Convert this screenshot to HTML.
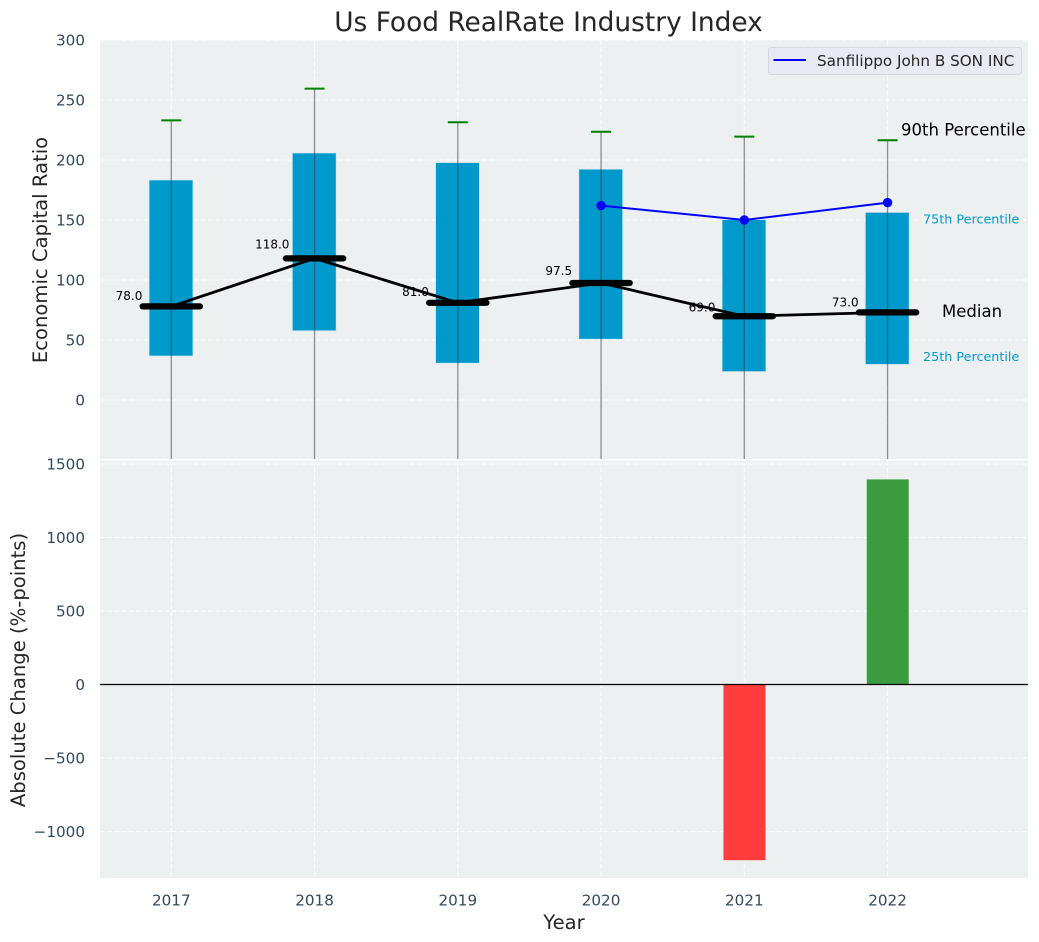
<!DOCTYPE html>
<html>
<head>
<meta charset="utf-8">
<title>Us Food RealRate Industry Index</title>
<style>
html,body{margin:0;padding:0;background:#fff;}
svg{display:block;font-family:"DejaVu Sans","Liberation Sans",sans-serif;}
</style>
</head>
<body>
<svg id="chart" xmlns="http://www.w3.org/2000/svg" width="1039" height="942" viewBox="0 0 1039 942">
<defs>
<clipPath id="clip-top"><rect x="100" y="40" width="928" height="419"></rect></clipPath>
<clipPath id="clip-bottom"><rect x="100" y="460.5" width="928" height="417.5"></rect></clipPath>
</defs>
</svg>
<script>
const years = [2017, 2018, 2019, 2020, 2021, 2022];
const p10Values = [-60, -60, -60, -60, -60, -60];
const q1Values = [37, 58, 31, 51, 24, 30];
const medianValues = [78, 118, 81, 97.5, 69.8, 73];
const medianLabels = ['78.0', '118.0', '81.0', '97.5', '69.0', '73.0'];
const q3Values = [183, 205.5, 197.5, 192, 150, 156];
const p90Values = [233, 259.5, 231.5, 223.5, 219.5, 216.5];
const companyYears = [2020, 2021, 2022];
const companyValues = [162, 150, 164.5];
const changeYears = [2021, 2022];
const changeValues = [-1195, 1395];
const topTicks = [0, 50, 100, 150, 200, 250, 300];
const bottomTicks = [-1000, -500, 0, 500, 1000, 1500];

const svg = document.getElementById('chart');
const NS = 'http://www.w3.org/2000/svg';
const X0 = 171.3, XSTEP = 143.25;
const xScale = yr => X0 + (yr - years[0]) * XSTEP;
const yTop = v => 400 - v * 1.2;
const yBottom = v => 684.5 - v * 0.147;

function make(tag, attrs, parent, text) {
  const el = document.createElementNS(NS, tag);
  for (const k in attrs) el.setAttribute(k, attrs[k]);
  if (text !== undefined) el.textContent = text;
  (parent || svg).appendChild(el);
  return el;
}
function group(clip) {
  const g = make('g', clip ? {'clip-path': 'url(#' + clip + ')'} : {});
  return g;
}
const TICK = '#34495e', LABEL = '#262626', BG = '#ecf0f1';
const TICK_SIZE = 15.2, NOTE_SIZE = 12.75;

/* panels */
const topPanel = make('rect', {x: 100, y: 40, width: 928, height: 419, fill: BG});


const bottomPanel = make('rect', {x: 100, y: 460.5, width: 928, height: 417.5, fill: BG});



/* grids */
const gTop = group('clip-top');


const gBottom = group('clip-bottom');


const gridStyle = {stroke: '#ffffff', 'stroke-width': 1.1, 'stroke-dasharray': '5 2.2', 'stroke-opacity': 0.85};

topTicks.forEach(t => {
  const line = make('line', Object.assign({x1: 100, x2: 1028, y1: yTop(t), y2: yTop(t)}, gridStyle), gTop);
  
  
  const label = make('text', {x: 85, y: yTop(t) + 5.5, 'text-anchor': 'end', 'font-size': TICK_SIZE, fill: TICK}, svg, String(t));
  
  
});
bottomTicks.forEach(t => {
  const line = make('line', Object.assign({x1: 100, x2: 1028, y1: yBottom(t), y2: yBottom(t)}, gridStyle), gBottom);
  
  
  const label = make('text', {x: 85, y: yBottom(t) + 5.5, 'text-anchor': 'end', 'font-size': TICK_SIZE, fill: TICK}, svg, String(t).replace('-', '\u2212'));
  
  
});
years.forEach(yr => {
  const x = xScale(yr);
  const a = make('line', Object.assign({x1: x, x2: x, y1: 40, y2: 459}, gridStyle), gTop);
  
  
  const b = make('line', Object.assign({x1: x, x2: x, y1: 460.5, y2: 878}, gridStyle), gBottom);
  
  
  const label = make('text', {x: x, y: 905.5, 'text-anchor': 'middle', 'font-size': TICK_SIZE, fill: TICK}, svg, String(yr));
  
  
});

/* boxes */
const BOX_W = 43, MED_W = 57.3, CAP_W = 20;
years.forEach((yr, i) => {
  const x = xScale(yr) - 0.3;
  const box = make('rect', {
    x: x - BOX_W / 2, y: yTop(q3Values[i]), width: BOX_W,
    height: yTop(q1Values[i]) - yTop(q3Values[i]),
    fill: '#0099cc', stroke: '#0099cc', 'stroke-opacity': 0.25, 'stroke-width': 1
  }, gTop);
  
  
});
years.forEach((yr, i) => {
  const x = xScale(yr);
  const whisker = make('line', {
    x1: x, x2: x, y1: yTop(p90Values[i]), y2: yTop(p10Values[i]),
    stroke: '#2f3b40', 'stroke-opacity': 0.55, 'stroke-width': 1.3
  }, gTop);
  
  
  const cap = make('line', {
    x1: x - CAP_W / 2, x2: x + CAP_W / 2, y1: yTop(p90Values[i]), y2: yTop(p90Values[i]),
    stroke: '#008000', 'stroke-width': 2
  }, gTop);
  
  
});

/* value labels */
years.forEach((yr, i) => {
  const label = make('text', {
    x: xScale(yr) - 42.3, y: yTop(parseFloat(medianLabels[i]) * 1.07),
    'text-anchor': 'middle', 'font-size': 12, fill: '#000'
  }, svg, medianLabels[i]);
  
  
});

/* median line */
const medianLine = make('polyline', {
  points: years.map((yr, i) => xScale(yr) + ',' + yTop(medianValues[i])).join(' '),
  fill: 'none', stroke: '#000', 'stroke-width': 2.8
}, gTop);


years.forEach((yr, i) => {
  const x = xScale(yr);
  const m = make('line', {
    x1: x - MED_W / 2, x2: x + MED_W / 2, y1: yTop(medianValues[i]), y2: yTop(medianValues[i]),
    stroke: '#000', 'stroke-width': 6.2, 'stroke-linecap': 'round'
  }, gTop);
  
  
});

/* company series */
const companyLine = make('polyline', {
  points: companyYears.map((yr, i) => xScale(yr) + ',' + yTop(companyValues[i])).join(' '),
  fill: 'none', stroke: '#0000ff', 'stroke-width': 2
}, gTop);


companyYears.forEach((yr, i) => {
  const dot = make('circle', {cx: xScale(yr), cy: yTop(companyValues[i]), r: 4.7, fill: '#0000ff'}, gTop);
  
  
});

/* percentile annotations anchored to last year */
const lastIdx = years.length - 1;
const lastX = xScale(years[lastIdx]);
const a90 = make('text', {x: lastX + 13.5, y: yTop(p90Values[lastIdx]) - 4.5, 'font-size': 16.5, fill: '#000'}, svg, '90th Percentile');


const a75 = make('text', {x: lastX + 35.5, y: yTop(q3Values[lastIdx]) + 10.5, 'font-size': NOTE_SIZE, fill: '#0099cc'}, svg, '75th Percentile');


const aMed = make('text', {x: lastX + 54.5, y: yTop(medianValues[lastIdx]) + 4.5, 'font-size': 16.5, fill: '#000'}, svg, 'Median');


const a25 = make('text', {x: lastX + 35.5, y: yTop(q1Values[lastIdx]) - 3, 'font-size': NOTE_SIZE, fill: '#0099cc'}, svg, '25th Percentile');



/* change bars */
changeYears.forEach((yr, i) => {
  const v = changeValues[i];
  const bar = make('rect', {
    x: xScale(yr) - 20.8, y: Math.min(yBottom(v), yBottom(0)), width: 42,
    height: Math.abs(yBottom(v) - yBottom(0)),
    fill: v < 0 ? '#ff3c3c' : '#3a9c3e'
  }, gBottom);
  
  
});
const zeroLine = make('line', {x1: 100, x2: 1028, y1: yBottom(0), y2: yBottom(0), stroke: '#000', 'stroke-width': 1.2}, gBottom);



/* legend */
const legend = make('g', {});


const legendBox = make('rect', {x: 768.5, y: 47.5, width: 253, height: 27, rx: 3, fill: '#eaeaf2', stroke: '#d5d8dc', 'stroke-width': 1}, legend);


const legendLine = make('line', {x1: 773.5, x2: 806, y1: 60, y2: 60, stroke: '#0000ff', 'stroke-width': 2}, legend);


const legendText = make('text', {x: 817, y: 66, 'font-size': TICK_SIZE, fill: LABEL}, legend, 'Sanfilippo John B SON INC');



/* titles */
const title = make('text', {x: 548.5, y: 31, 'text-anchor': 'middle', 'font-size': 26.4, fill: LABEL}, svg, 'Us Food RealRate Industry Index');


const yl1 = make('text', {x: 0, y: 0, transform: 'translate(47 250) rotate(-90)', 'text-anchor': 'middle', 'font-size': 19.6, fill: LABEL}, svg, 'Economic Capital Ratio');


const yl2 = make('text', {x: 0, y: 0, transform: 'translate(25 670) rotate(-90)', 'text-anchor': 'middle', 'font-size': 19.6, fill: LABEL}, svg, 'Absolute Change (%-points)');


const xl = make('text', {x: 564, y: 929, 'text-anchor': 'middle', 'font-size': 19.6, fill: LABEL}, svg, 'Year');


</script>
</body>
</html>
